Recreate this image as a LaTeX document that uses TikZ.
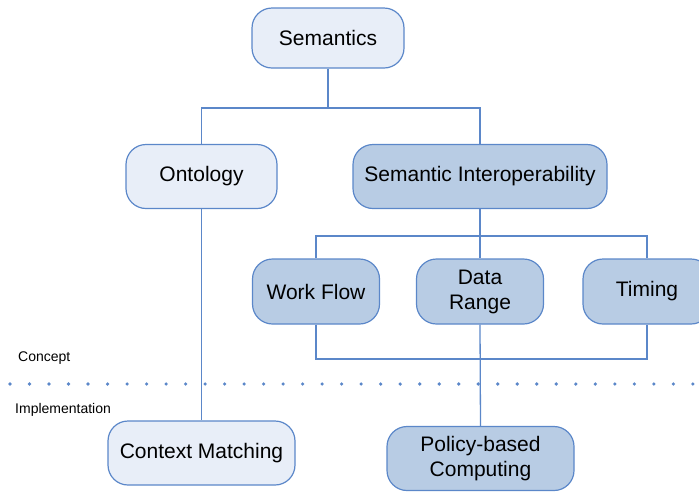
\documentclass[tikz,border=0pt]{standalone}
\usepackage{fontspec}
\setmainfont{Liberation Sans}
\definecolor{lightfill}{HTML}{E8EEF8}
\definecolor{darkfill}{HTML}{B8CCE4}
\definecolor{edgeblue}{HTML}{5B87C9}
\begin{document}
\begin{tikzpicture}[x=1pt,y=-1pt,
  box/.style={draw=edgeblue, line width=1.2pt, rounded corners=20pt, align=center,
    font=\fontsize{21}{25}\selectfont, inner sep=0pt},
  lightbox/.style={box, fill=lightfill},
  darkbox/.style={box, fill=darkfill},
  conn/.style={draw=edgeblue, line width=1.3pt},
  lbl/.style={font=\fontsize{14}{16}\selectfont, anchor=west, inner sep=0pt}]
\useasboundingbox (0,0) rectangle (699,491);
% nodes
\node[lightbox, minimum width=152pt, minimum height=60pt] (sem) at (328,38) {Semantics};
\node[lightbox, minimum width=151pt, minimum height=64pt] (ont) at (201.5,176.5) {Ontology};
\node[darkbox, minimum width=254pt, minimum height=64pt] (si) at (480,176.5) {Semantic Interoperability};
\node[darkbox, minimum width=127pt, minimum height=65pt] (wf) at (316,291.5) {Work Flow};
\node[darkbox, minimum width=127pt, minimum height=65pt] (dr) at (480,291.5) {Data\\Range};
\node[darkbox, minimum width=128pt, minimum height=65pt] (tim) at (647,291.5) {Timing};
\node[lightbox, minimum width=187pt, minimum height=64pt] (cm) at (201.5,453) {Context Matching};
\node[darkbox, minimum width=187pt, minimum height=64pt] (pbc) at (480.5,458.5) {Policy-based\\Computing};
\node[lbl] (concept) at (18,358) {Concept};
\node[lbl] (impl) at (15,410) {Implementation};
% junctions
\coordinate (j1) at (328,108);
\coordinate (j2) at (480,236);
\coordinate (j3) at (480,359);
% connectors
\draw[conn] (sem.south) -- (j1);
\draw[conn] (ont.north) |- (j1) -| (si.north);
\draw[conn] (si.south) -- (j2);
\draw[conn] (wf.north) |- (j2) -| (tim.north);
\draw[conn] (j2) -- (dr.north);
\draw[conn] (wf.south) |- (j3) -| (tim.south);
\draw[conn] (dr.south) -- (pbc.north);
\draw[conn] (ont.south) -- (cm.north);
% dotted separator
\foreach \i in {0,...,35}
  \fill[edgeblue] (10+\i*19.51,384) circle (1.8pt);
\end{tikzpicture}
\end{document}
